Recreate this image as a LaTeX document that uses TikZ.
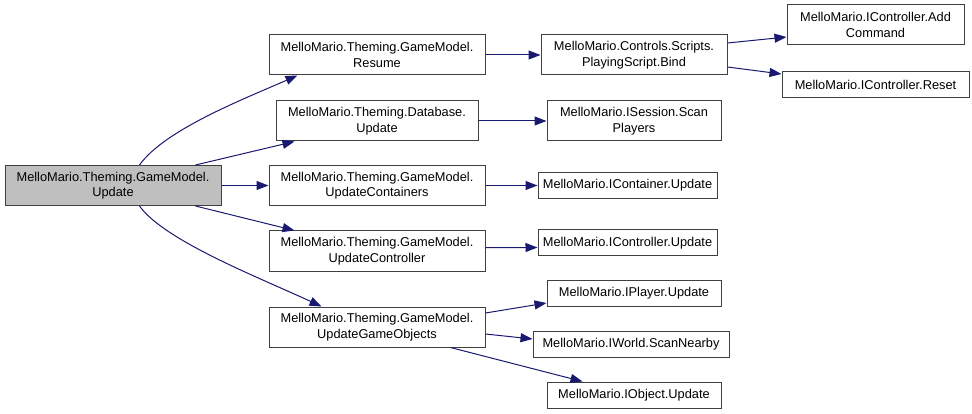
\documentclass[tikz,border=0pt]{standalone}
\usepackage{fontspec}
\setmainfont{Liberation Sans}
\usetikzlibrary{arrows.meta}
\definecolor{edgeblue}{HTML}{191970}
\definecolor{boxline}{HTML}{404040}
\definecolor{rootfill}{HTML}{BFBFBF}
\begin{document}
\begin{tikzpicture}[x=1pt,y=-1pt,
  box/.style={draw=boxline,line width=1pt,fill=white,inner sep=0pt,align=center,
    font=\fontsize{12.8pt}{15.5pt}\selectfont},
  two/.style={minimum height=40pt},
  one/.style={minimum height=26pt},
  edge/.style={draw=edgeblue,line width=1pt,-{Triangle[length=12pt,width=9pt]}}]
\useasboundingbox (0,0) rectangle (972,414);
% nodes
\node[box,two,fill=rootfill,minimum width=216pt] (root) at (113,185.5) {MelloMario.Theming.GameModel.\\Update};
\node[box,two,minimum width=216pt] (resume) at (377,55) {MelloMario.Theming.GameModel.\\Resume};
\node[box,two,minimum width=202pt] (db) at (377,121) {MelloMario.Theming.Database.\\Update};
\node[box,two,minimum width=216pt] (ucont) at (377,185.5) {MelloMario.Theming.GameModel.\\UpdateContainers};
\node[box,two,minimum width=216pt] (uctrl) at (377,251) {MelloMario.Theming.GameModel.\\UpdateController};
\node[box,two,minimum width=216pt] (ugo) at (377,327) {MelloMario.Theming.GameModel.\\UpdateGameObjects};
\node[box,two,minimum width=186pt] (bind) at (634,55) {MelloMario.Controls.Scripts.\\PlayingScript.Bind};
\node[box,two,minimum width=174pt] (scanp) at (634,121) {MelloMario.ISession.Scan\\Players};
\node[box,one,minimum width=179pt] (icont) at (627.5,185.5) {MelloMario.IContainer.Update};
\node[box,one,minimum width=179pt] (ictrl) at (627.5,243) {MelloMario.IController.Update};
\node[box,one,minimum width=174pt] (iplayer) at (634,293.5) {MelloMario.IPlayer.Update};
\node[box,one,minimum width=196pt] (iworld) at (631,344.5) {MelloMario.IWorld.ScanNearby};
\node[box,one,minimum width=174pt] (iobj) at (634,395) {MelloMario.IObject.Update};
\node[box,two,minimum width=177pt] (addcmd) at (875.5,25) {MelloMario.IController.Add\\Command};
\node[box,one,minimum width=187pt] (reset) at (875.5,84.5) {MelloMario.IController.Reset};
% edges
\draw[edge] ([xshift=135pt]root.north west) .. controls +(25,-35) and +(-55,24) .. ([xshift=29pt]resume.south west);
\draw[edge] ([xshift=-26pt]root.north east) -- ([xshift=19pt]db.south west);
\draw[edge] (root.east) -- (ucont.west);
\draw[edge] ([xshift=-26pt]root.south east) -- ([xshift=26pt]uctrl.north west);
\draw[edge] ([xshift=135pt]root.south west) .. controls +(25,35) and +(-60,-28) .. ([xshift=53pt]ugo.north west);
\draw[edge] (resume.east) -- (bind.west);
\draw[edge] (db.east) -- (scanp.west);
\draw[edge] (ucont.east) -- (icont.west);
\draw[edge] ([yshift=3.3pt]uctrl.east) -- ([yshift=-4.5pt]ictrl.west);
\draw[edge] ([yshift=14pt]ugo.east) -- ([yshift=-9.5pt]iplayer.west);
\draw[edge] ([yshift=-7pt]ugo.east) -- ([yshift=5.5pt]iworld.west);
\draw[edge] ([xshift=-35pt]ugo.south east) -- ([xshift=36pt]iobj.north west);
\draw[edge] ([yshift=12pt]bind.east) -- ([yshift=-12pt]addcmd.west);
\draw[edge] ([yshift=-12pt]bind.east) -- ([yshift=10.5pt]reset.west);
\end{tikzpicture}
\end{document}
